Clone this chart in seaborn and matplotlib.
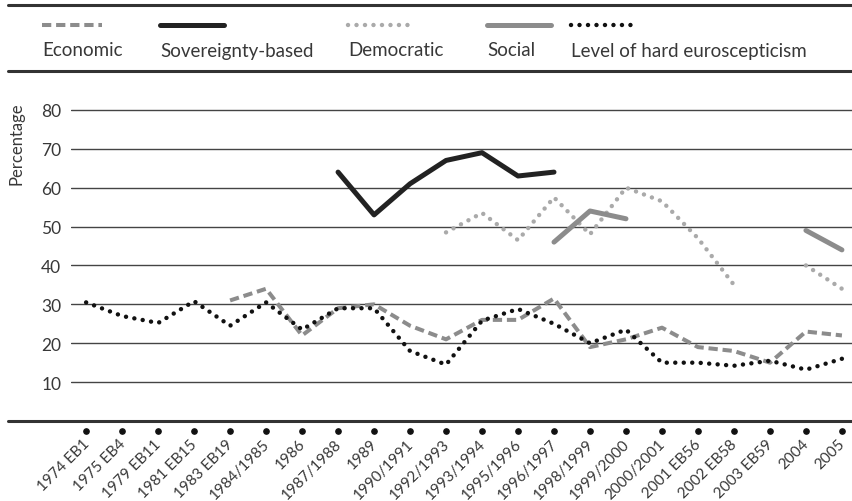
import seaborn as sns
import matplotlib.pyplot as plt
import matplotlib.transforms as mtransforms
from matplotlib.lines import Line2D
import pandas as pd
import numpy as np

sns.set_style("white")
plt.rcParams['font.family'] = ['Lato', 'DejaVu Sans']

nan = np.nan

waves = ["1974 EB1", "1975 EB4", "1979 EB11", "1981 EB15", "1983 EB19", "1984/1985",
         "1986", "1987/1988", "1989", "1990/1991", "1992/1993", "1993/1994",
         "1995/1996", "1996/1997", "1998/1999", "1999/2000", "2000/2001",
         "2001 EB56", "2002 EB58", "2003 EB59", "2004", "2005"]

economic = [nan, nan, nan, nan, 31, 34, 22, 29, 30, 24.5, 21, 26,
            26, 31.5, 19, 21, 24, 19, 18, 15, 23, 22]
sovereignty = [nan, nan, nan, nan, nan, nan, nan, 64, 53, 61, 67, 69,
               63, 64, nan, nan, nan, nan, nan, nan, nan, nan]
democratic = [nan, nan, nan, nan, nan, nan, nan, nan, nan, nan, 48.5, 53.5,
              46.5, 57.5, 48, 60, 56.5, 47, 35, nan, 40, 34]
social = [nan, nan, nan, nan, nan, nan, nan, nan, nan, nan, nan, nan,
          nan, 46, 54, 52, nan, nan, nan, nan, 49, 44]
hard = [30.5, 27, 25.2, 30.8, 24.5, 30.5, 23.5, 29, 29, 18, 14.5, 25.8,
        28.8, 25, 20, 23.5, 15, 15, 14.2, 15.5, 13.2, 16]

TXT = "#383838"


def long_form(vals):
    s = pd.Series(vals, dtype=float)
    df = pd.DataFrame({"x": np.arange(len(s)), "value": s, "seg": s.isna().cumsum()})
    return df.dropna()


W, H = 852, 502
fig = plt.figure(figsize=(W / 100, H / 100), dpi=100)
ax = fig.add_axes([71 / W, (H - 422) / H, (W - 71) / W, 350 / H])

# styles: (name, data, colour, linewidth, linestyle, capstyle)
series = [
    ("Economic", economic, "#8c8c8c", 2.9, (0, (2.3, 1.2)), "butt"),
    ("Sovereignty-based", sovereignty, "#222222", 3.6, "-", "round"),
    ("Democratic", democratic, "#aaaaaa", 3.2, (0, (0.01, 1.9)), "round"),
    ("Social", social, "#8c8c8c", 3.6, "-", "round"),
    ("Level of hard euroscepticism", hard, "#111111", 3.2, (0, (0.01, 1.9)), "round"),
]

for name, vals, col, lw, ls, cap in series:
    sns.lineplot(data=long_form(vals), x="x", y="value", units="seg", estimator=None,
                 color=col, linewidth=lw, linestyle=ls, dash_capstyle=cap,
                 solid_capstyle=cap, legend=False, ax=ax)

ax.set_xlim(-0.42, 21.28)
ax.set_ylim(0, 90)
ax.set_yticks(range(10, 90, 10))
ax.grid(axis="y", color="#444444", linewidth=1.0)
ax.grid(axis="x", visible=False)
for sp in ax.spines.values():
    sp.set_visible(False)
ax.set_xlabel("")
ax.set_ylabel("")
ax.tick_params(axis="y", length=0, pad=7, labelsize=12.5, labelcolor=TXT)
ax.set_xticks(range(len(waves)))
ax.set_xticklabels(waves, rotation=45, ha="right", va="top", rotation_mode="anchor",
                   fontsize=11, color=TXT)
ax.tick_params(axis="x", length=0, pad=11)
shift = mtransforms.ScaledTranslation(-4 / 100, 0, fig.dpi_scale_trans)
for lab in ax.get_xticklabels():
    lab.set_transform(lab.get_transform() + shift)

# dot tick marks under the axis line
trans = mtransforms.blended_transform_factory(ax.transData, ax.transAxes)
ax.plot(range(len(waves)), [-10 / 350] * len(waves), "o", color="#111111",
        markersize=3.8, transform=trans, clip_on=False)

# frame lines
for yy in (6, 72, 422):
    fig.add_artist(Line2D([8 / W, 1], [1 - yy / H] * 2, color="#333333", linewidth=2.2,
                          transform=fig.transFigure))

fig.text(17 / W, 1 - 102 / H, "Percentage", rotation=90, ha="center", va="top",
         fontsize=12, color=TXT)

# legend: handle above label
leg_x = [(42, 102), (160, 224), (348, 410), (487, 551), (571, 632)]
for (name, vals, col, lw, ls, cap), (x0, x1) in zip(series, leg_x):
    fig.add_artist(Line2D([x0 / W, x1 / W], [1 - 26 / H] * 2, color=col, linewidth=lw,
                          linestyle=ls, dash_capstyle=cap, solid_capstyle=cap,
                          transform=fig.transFigure))
    fig.text(x0 / W, 1 - 51 / H, name, ha="left", va="center", fontsize=13.5, color=TXT)

fig.savefig("out.png", dpi=100)
